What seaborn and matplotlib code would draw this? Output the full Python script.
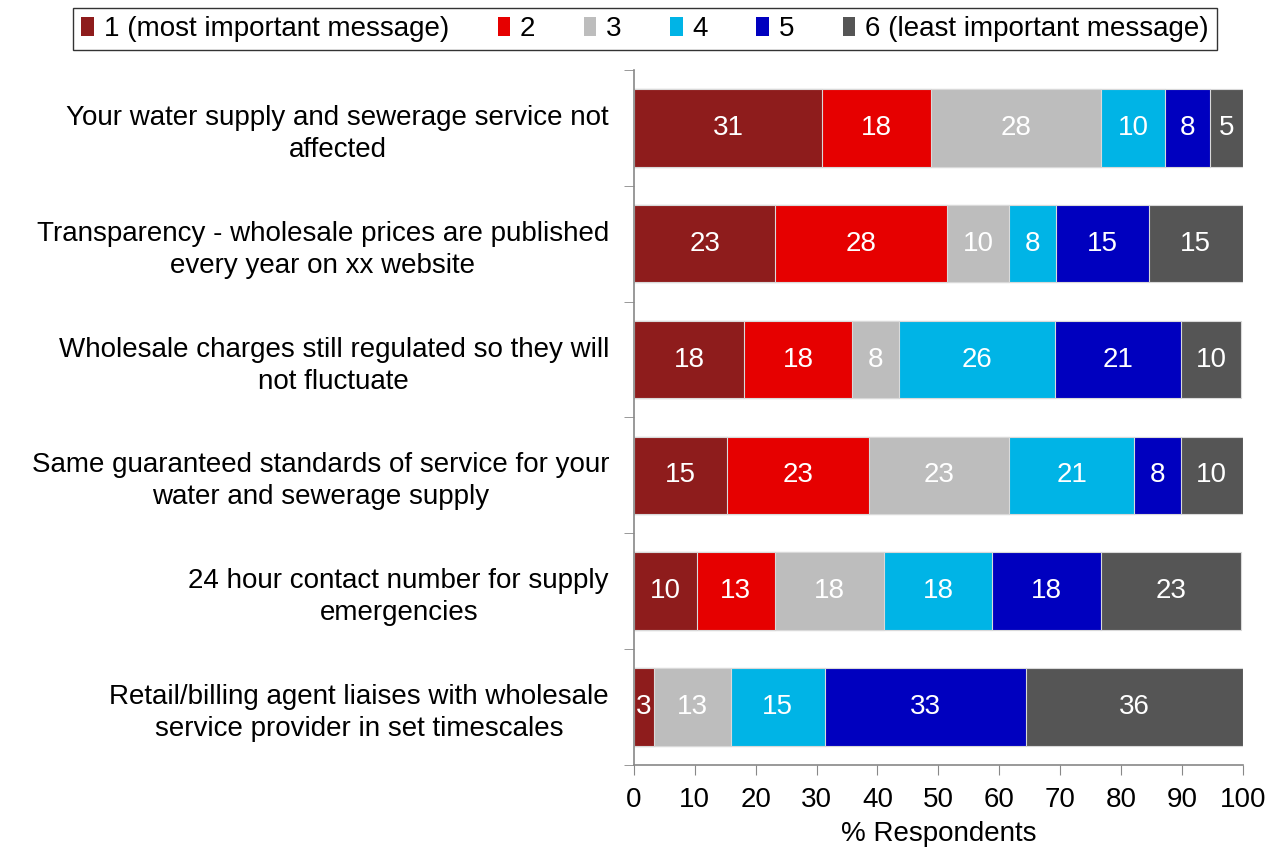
import numpy as np
import pandas as pd
import seaborn as sns
import matplotlib.pyplot as plt
from matplotlib.patches import Patch

# messages, top to bottom
messages = [
    "Your water supply and sewerage service not\naffected",
    "Transparency - wholesale prices are published\nevery year on xx website",
    "Wholesale charges still regulated so they will\nnot fluctuate",
    "Same guaranteed standards of service for your\nwater and sewerage supply",
    "24 hour contact number for supply\nemergencies",
    "Retail/billing agent liaises with wholesale\nservice provider in set timescales",
]

rank_names = ["1 (most important message)", "2", "3", "4", "5",
              "6 (least important message)"]

# % respondents per rank
rank1 = [30.9, 23.2, 18.1, 15.3, 10.3, 3.3]
rank2 = [17.9, 28.2, 17.7, 23.3, 12.8, 0.0]
rank3 = [28.0, 10.2, 7.7, 23.0, 17.9, 12.6]
rank4 = [10.4, 7.7, 25.6, 20.6, 17.9, 15.4]
rank5 = [7.5, 15.3, 20.7, 7.6, 17.8, 33.1]
rank6 = [5.3, 15.4, 10.0, 10.2, 23.0, 35.6]

colors = ["#8e1c1c", "#e60000", "#bdbdbd", "#00b4e6", "#0000bf", "#555555"]

df = pd.DataFrame({"message": messages})
series = [rank1, rank2, rank3, rank4, rank5, rank6]
for name, vals in zip(rank_names, series):
    df[name] = vals

cum = df[rank_names].cumsum(axis=1)

sns.set_style("white")
plt.rcParams["font.family"] = ["Liberation Sans", "DejaVu Sans"]
plt.rcParams["text.color"] = "black"
plt.rcParams["xtick.color"] = "black"
plt.rcParams["ytick.color"] = "black"
plt.rcParams["axes.labelcolor"] = "black"

fs = 20

fig = plt.figure(figsize=(12.68, 8.48), dpi=100)
ax = fig.add_axes([0.5, 0.098, 0.48, 0.8195])

# stacked bars: draw cumulative totals from the last rank to the first
for name, col in reversed(list(zip(rank_names, colors))):
    sns.barplot(data=cum, x=name, y=df["message"], orient="h", color=col,
                width=0.67, edgecolor="#d9d9d9", linewidth=0.8, ax=ax,
                saturation=1)

# value labels in the middle of each segment
for name in rank_names:
    for i in range(len(messages)):
        v = df[name].iloc[i]
        if v <= 0:
            continue
        xc = cum[name].iloc[i] - v / 2
        ax.text(xc, i, f"{v:.0f}", ha="center", va="center",
                color="white", fontsize=fs)

ax.set_xlim(0, 100)
ax.set_ylim(5.5, -0.5)
ax.set_xticks(np.arange(0, 101, 10))
ax.set_xlabel("% Respondents", fontsize=fs, labelpad=6)
ax.set_ylabel("")
ax.tick_params(axis="x", labelsize=fs, direction="out", length=7,
               color="#888888", labelcolor="black", bottom=True, pad=9)
ax.tick_params(axis="y", labelsize=fs, length=0, pad=18, labelcolor="black")
for lab in ax.get_yticklabels():
    lab.set_multialignment("center")
    lab.set_linespacing(1.3)

# category separator ticks on the left spine
ax.set_yticks(np.arange(-0.5, 6, 1), minor=True)
ax.tick_params(axis="y", which="minor", left=True, direction="out",
               length=7, color="#888888")

for side in ["top", "right"]:
    ax.spines[side].set_visible(False)
for side in ["left", "bottom"]:
    ax.spines[side].set_color("#888888")
    ax.spines[side].set_linewidth(1.2)

handles = [Patch(facecolor=c, edgecolor="none") for c in colors]
leg = fig.legend(handles, rank_names, loc="center", ncol=6,
                 bbox_to_anchor=(645 / 1268, 1 - 29 / 848),
                 fontsize=fs, frameon=True, fancybox=False,
                 edgecolor="black", handlelength=0.45, handleheight=0.7,
                 handletextpad=0.35, columnspacing=1.75, borderpad=0.3,
                 borderaxespad=0)
leg.get_frame().set_linewidth(1.0)

fig.savefig("out.png", dpi=100)
